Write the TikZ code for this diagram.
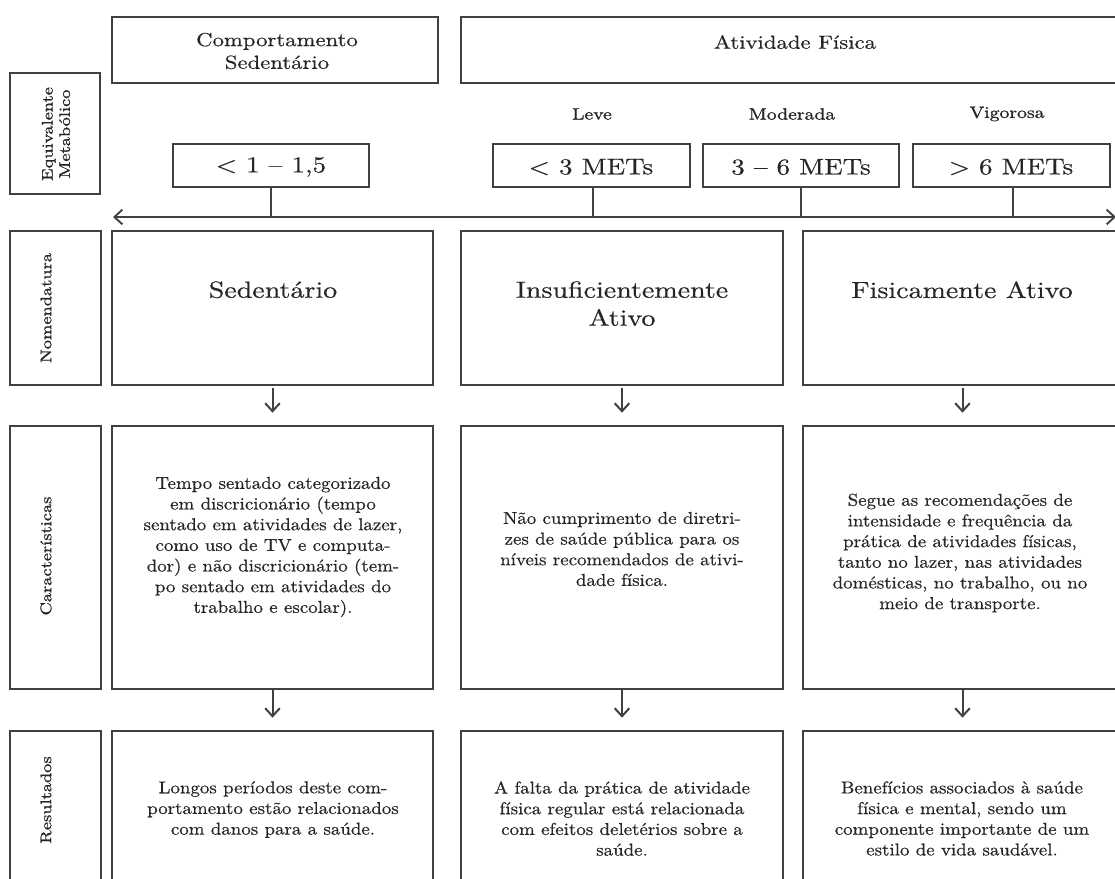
\documentclass[tikz,border=0pt]{standalone}
\usepackage{fontspec}
\setmainfont{lmroman10-regular.otf}[FakeStretch=1.2,FakeBold=0.4]
\newfontfamily\bodyf{lmroman10-regular.otf}[FakeStretch=1.1,FakeBold=0.5]
\newfontfamily\heavyf{lmroman10-regular.otf}[FakeStretch=1.2,FakeBold=1.1]
\usetikzlibrary{arrows.meta}
\definecolor{ln}{HTML}{404040}
\definecolor{tx}{HTML}{262626}
\tikzset{
  box/.style={draw=ln, line width=1.2pt, rectangle, inner sep=0pt, outer sep=0pt},
  txt/.style={text=tx, align=center, inner sep=0pt, font=\bodyf\fontsize{12.9}{15.5}\selectfont},
  hdr/.style={text=tx, align=center, inner sep=0pt, font=\fontsize{14.2}{17}\selectfont},
  lvl/.style={text=tx, align=center, inner sep=0pt, font=\heavyf\fontsize{12.3}{15}\selectfont},
  met/.style={text=tx, align=center, inner sep=0pt, font=\fontsize{17}{20}\selectfont},
  nome/.style={text=tx, align=center, inner sep=0pt, font=\fontsize{17.5}{21}\selectfont},
  lab/.style={text=tx, align=center, inner sep=0pt, rotate=90, font=\heavyf\fontsize{11.5}{13}\selectfont},
  arr/.style={draw=ln, line width=1.5pt, -{Straight Barb[length=6pt,width=11pt,line width=1.5pt]}},
  axis/.style={draw=ln, line width=1.4pt, {Straight Barb[length=6pt,width=11pt,line width=1.4pt]}-{Straight Barb[length=6pt,width=11pt,line width=1.4pt]}},
  tick/.style={draw=ln, line width=1.2pt}
}
\newcommand\boxnode[5]{\node[box, minimum width={(#4-#2)*0.75pt}, minimum height={(#5-#3)*0.75pt}] (#1) at ({(#2+#4)/2},{(#3+#5)/2}) {};}
\begin{document}
\begin{tikzpicture}[x=0.75pt,y=-0.75pt]
\useasboundingbox (0,0) rectangle (1115,879);
\fill[white] (0,0) rectangle (1115,879);
\clip (0,0) rectangle (1115,879);

% header boxes
\boxnode{hsed}{112}{17}{438}{83}
\boxnode{haf}{461}{17}{1135}{83}
\node[hdr] (thsed) at (277,51) {Comportamento\\Sedentário};
\node[hdr] (thaf) at (795,42) {Atividade Física};

% label boxes
\boxnode{leq}{10}{73}{100}{194}
\boxnode{lnom}{10}{231}{101}{385}
\boxnode{lcar}{10}{426}{101}{689}
\boxnode{lres}{10}{731}{101}{900}
\node[lab] (tleq) at (56,134) {Equivalente\\Metabólico};
\node[lab] (tlnom) at (46,308) {Nomendatura};
\node[lab] (tlcar) at (46,556) {Características};
\node[lab] (tlres) at (46,800) {Resultados};

% intensity levels
\node[lvl] (leve) at (592,114) {Leve};
\node[lvl] (mod) at (792,114) {Moderada};
\node[lvl] (vig) at (1007,114) {Vigorosa};

% MET boxes
\boxnode{m1}{173}{144}{369}{187}
\boxnode{m2}{493}{144}{690}{187}
\boxnode{m3}{703}{144}{899}{187}
\boxnode{m4}{913}{144}{1110}{187}
\node[met] (tm1) at (271,167) {< 1 -- 1,5};
\node[met] (tm2) at (591,167) {< 3 METs};
\node[met] (tm3) at (801,167) {3 -- 6 METs};
\node[met] (tm4) at (1011,167) {> 6 METs};

% axis
\coordinate (axl) at (113,217);
\coordinate (axr) at (1116,217);
\draw[axis] (axl) -- (axr);
\draw[tick] (m1.south) -- (m1.south |- axl);
\draw[tick] (m2.south) ++(1.5,0) -- ++(0,30);
\draw[tick] (m3.south) -- (m3.south |- axl);
\draw[tick] (m4.south) ++(1.5,0) -- ++(0,30);

% row 2: nomenclature
\boxnode{n1}{112}{231}{433}{385}
\boxnode{n2}{461}{231}{783}{385}
\boxnode{n3}{803}{231}{1122}{385}
\node[nome, anchor=north] (tn1) at (273,281) {Sedentário};
\node[nome, anchor=north] (tn2) at (622,281) {Insuficientemente\\Ativo};
\node[nome, anchor=north] (tn3) at (962,281) {Fisicamente Ativo};

% row 3: characteristics
\boxnode{c1}{112}{426}{433}{689}
\boxnode{c2}{461}{426}{783}{689}
\boxnode{c3}{803}{426}{1122}{689}
\node[txt] (tc1) at (273,547) {Tempo sentado categorizado\\em discricionário (tempo\\sentado em atividades de lazer,\\como uso de TV e computa-\\dor) e não discricionário (tem-\\po sentado em atividades do\\trabalho e escolar).};
\node[txt] (tc2) at (622,549) {Não cumprimento de diretri-\\zes de saúde pública para os\\níveis recomendados de ativi-\\dade física.};
\node[txt] (tc3) at (960,553) {Segue as recomendações de\\intensidade e frequência da\\prática de atividades físicas,\\tanto no lazer, nas atividades\\domésticas, no trabalho, ou no\\meio de transporte.};

% row 4: results
\boxnode{r1}{112}{731}{433}{900}
\boxnode{r2}{461}{731}{783}{900}
\boxnode{r3}{803}{731}{1122}{900}
\node[txt, anchor=north] (tr1) at (273,781) {Longos períodos deste com-\\portamento estão relacionados\\com danos para a saúde.};
\node[txt, anchor=north] (tr2) at (622,781) {A falta da prática de atividade\\física regular está relacionada\\com efeitos deletérios sobre a\\saúde.};
\node[txt, anchor=north] (tr3) at (962,781) {Benefícios associados à saúde\\física e mental, sendo um\\componente importante de um\\estilo de vida saudável.};

% arrows between rows
\draw[arr, shorten <=2pt, shorten >=10pt] (n1.south) -- (c1.north);
\draw[arr, shorten <=2pt, shorten >=10pt] (n2.south) -- (c2.north);
\draw[arr, shorten <=2pt, shorten >=10pt] (n3.south) -- (c3.north);
\draw[arr, shorten <=1pt, shorten >=10pt] (c1.south) -- (r1.north);
\draw[arr, shorten <=1pt, shorten >=10pt] (c2.south) -- (r2.north);
\draw[arr, shorten <=1pt, shorten >=10pt] (c3.south) -- (r3.north);
\end{tikzpicture}
\end{document}
